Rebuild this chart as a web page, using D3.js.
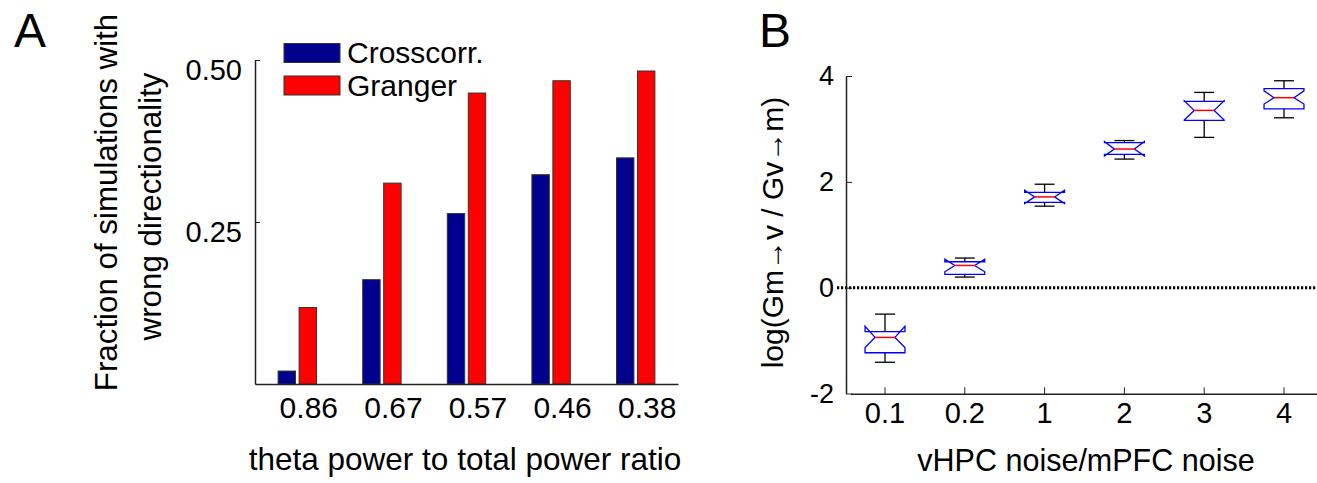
<!doctype html>
<html lang="en">
<head>
	<meta charset="UTF-8">
	<title>Wrong directionality / log Granger ratio</title>
	<style>
		body { margin: 0; background: #fff; }
		svg { display: block; font-family: "Liberation Sans", Arial, Helvetica, sans-serif; }
		.axis path, .axis line { stroke: #222; }
	</style>
</head>
<body>
	<script src="https://cdn.jsdelivr.net/npm/d3@7/dist/d3.min.js"></script>
	<script>
		// panel A data
		var powerRatio = ['0.86', '0.67', '0.57', '0.46', '0.38'];
		var seriesNames = ['Crosscorr.', 'Granger'];
		var crosscorr = [0.020, 0.161, 0.263, 0.323, 0.349];
		var granger = [0.118, 0.310, 0.449, 0.468, 0.483];
		var fracTicks = [0.25, 0.50];

		// panel B data (box plot stats per noise ratio)
		var noiseRatio = ['0.1', '0.2', '1', '2', '3', '4'];
		var whiskerLo = [-1.41, 0.20, 1.54, 2.43, 2.84, 3.21];
		var q1 = [-1.23, 0.25, 1.61, 2.52, 3.16, 3.38];
		var notchLo = [-1.13, 0.30, 1.59, 2.49, 3.17, 3.47];
		var median = [-0.94, 0.42, 1.715, 2.62, 3.35, 3.59];
		var notchHi = [-0.73, 0.54, 1.84, 2.76, 3.53, 3.72];
		var q3 = [-0.83, 0.49, 1.80, 2.74, 3.52, 3.76];
		var whiskerHi = [-0.50, 0.56, 1.955, 2.78, 3.69, 3.91];
		var logTicks = [-2, 0, 2, 4];

		var colors = ['#00008f', '#ff0000'];

		var w = 1317,
			h = 483;

		var svg = d3.select('body')
			.append('svg')
			.attr('width', w)
			.attr('height', h);

		// ---------- panel A ----------
		var xA = d3.scaleBand()
			.domain(powerRatio)
			.range([255, 678]);

		var xInner = d3.scaleBand()
			.domain(seriesNames)
			.range([-19.2, 19.2])
			.paddingInner(0.17);

		var yA = d3.scaleLinear()
			.domain([0, 0.5])
			.range([384, 60]);

		var gA = svg.append('g');

		var groups = gA.selectAll('g.group')
			.data(powerRatio)
			.enter()
			.append('g')
			.attr('class', 'group')
			.attr('transform', function(d) {
				return 'translate(' + (xA(d) + xA.bandwidth() / 2) + ',0)';
			});

		groups.selectAll('rect')
			.data(function(d, i) {
				return [
					{ s: seriesNames[0], v: crosscorr[i], c: colors[0] },
					{ s: seriesNames[1], v: granger[i], c: colors[1] }
				];
			})
			.enter()
			.append('rect')
			.attr('x', function(d) { return xInner(d.s); })
			.attr('width', xInner.bandwidth())
			.attr('y', function(d) { return yA(d.v); })
			.attr('height', function(d) { return yA(0) - yA(d.v); })
			.attr('fill', function(d) { return d.c; })
			.attr('stroke', '#333')
			.attr('stroke-width', 1);

		// y axis A
		var yAxisA = gA.append('g')
			.attr('class', 'axis')
			.attr('transform', 'translate(255,0)')
			.call(d3.axisRight(yA).tickValues(fracTicks).tickSize(5).tickFormat(d3.format('.2f')).tickSizeOuter(0));
		yAxisA.select('.domain').attr('stroke-width', 1.5);
		yAxisA.selectAll('.tick text')
			.attr('x', -13)
			.attr('dy', '19.5')
			.attr('text-anchor', 'end')
			.attr('fill', '#000')
			.style('font-size', '29px');

		// x axis A
		var xAxisA = gA.append('g')
			.attr('class', 'axis')
			.attr('transform', 'translate(0,384)')
			.call(d3.axisBottom(xA).tickSize(0).tickSizeOuter(0));
		xAxisA.select('.domain').attr('stroke-width', 1.5);
		xAxisA.selectAll('.tick text')
			.attr('x', 11.5)
			.attr('y', 34)
			.attr('dy', null)
			.attr('fill', '#000')
			.style('font-size', '30px');

		gA.append('text')
			.attr('x', 465)
			.attr('y', 470)
			.attr('text-anchor', 'middle')
			.style('font-size', '31.5px')
			.text('theta power to total power ratio');

		gA.append('text')
			.attr('transform', 'translate(117,202.5) rotate(-90)')
			.attr('text-anchor', 'middle')
			.style('font-size', '31.3px')
			.text('Fraction of simulations with');
		gA.append('text')
			.attr('transform', 'translate(160.5,206.5) rotate(-90)')
			.attr('text-anchor', 'middle')
			.style('font-size', '31.3px')
			.text('wrong directionality');

		// legend
		var legend = gA.selectAll('g.legend')
			.data(seriesNames)
			.enter()
			.append('g')
			.attr('class', 'legend')
			.attr('transform', function(d, i) {
				return 'translate(284,' + (43.5 + i * 32.5) + ')';
			});
		legend.append('rect')
			.attr('width', 56)
			.attr('height', 19)
			.attr('fill', function(d, i) { return colors[i]; })
			.attr('stroke', '#333')
			.attr('stroke-width', 1);
		legend.append('text')
			.attr('x', 63)
			.attr('y', 19.5)
			.style('font-size', '30px')
			.text(function(d) { return d; });

		svg.append('text')
			.attr('x', 14)
			.attr('y', 47)
			.style('font-size', '48px')
			.text('A');

		// ---------- panel B ----------
		var xB = d3.scaleBand()
			.domain(noiseRatio)
			.range([845.1, 1323.9]);

		var yB = d3.scaleLinear()
			.domain([-2, 4])
			.range([393.5, 76]);

		var gB = svg.append('g');

		// zero reference line
		gB.append('line')
			.attr('x1', 837)
			.attr('x2', w)
			.attr('y1', yB(0))
			.attr('y2', yB(0))
			.attr('stroke', '#000')
			.attr('stroke-width', 3)
			.attr('stroke-dasharray', '2.2,1.8');

		var boxes = noiseRatio.map(function(c, i) {
			return {
				c: c, lo: whiskerLo[i], q1: q1[i], nlo: notchLo[i], med: median[i],
				nhi: notchHi[i], q3: q3[i], hi: whiskerHi[i]
			};
		});

		var hw = xB.bandwidth() / 4;

		var box = gB.selectAll('g.box')
			.data(boxes)
			.enter()
			.append('g')
			.attr('class', 'box')
			.attr('transform', function(d) {
				return 'translate(' + (xB(d.c) + xB.bandwidth() / 2) + ',0)';
			});

		// whiskers
		box.append('line')
			.attr('x1', 0).attr('x2', 0)
			.attr('y1', function(d) { return yB(d.q3); })
			.attr('y2', function(d) { return yB(d.hi); })
			.attr('stroke', '#000').attr('stroke-width', 1.3);
		box.append('line')
			.attr('x1', 0).attr('x2', 0)
			.attr('y1', function(d) { return yB(d.q1); })
			.attr('y2', function(d) { return yB(d.lo); })
			.attr('stroke', '#000').attr('stroke-width', 1.3);
		box.append('line')
			.attr('x1', -hw / 2).attr('x2', hw / 2)
			.attr('y1', function(d) { return yB(d.hi); })
			.attr('y2', function(d) { return yB(d.hi); })
			.attr('stroke', '#000').attr('stroke-width', 1.3);
		box.append('line')
			.attr('x1', -hw / 2).attr('x2', hw / 2)
			.attr('y1', function(d) { return yB(d.lo); })
			.attr('y2', function(d) { return yB(d.lo); })
			.attr('stroke', '#000').attr('stroke-width', 1.3);

		// notched box
		box.append('path')
			.attr('d', function(d) {
				var p = d3.path();
				p.moveTo(-hw, yB(d.q1));
				p.lineTo(-hw, yB(d.nlo));
				p.lineTo(-hw / 2, yB(d.med));
				p.lineTo(-hw, yB(d.nhi));
				p.lineTo(-hw, yB(d.q3));
				p.lineTo(hw, yB(d.q3));
				p.lineTo(hw, yB(d.nhi));
				p.lineTo(hw / 2, yB(d.med));
				p.lineTo(hw, yB(d.nlo));
				p.lineTo(hw, yB(d.q1));
				p.closePath();
				return p.toString();
			})
			.attr('fill', 'none')
			.attr('stroke', '#0000ff')
			.attr('stroke-width', 1.3);

		box.append('line')
			.attr('x1', -hw / 2).attr('x2', hw / 2)
			.attr('y1', function(d) { return yB(d.med); })
			.attr('y2', function(d) { return yB(d.med); })
			.attr('stroke', '#ff0000').attr('stroke-width', 1.5);

		// axes B
		var yAxisB = gB.append('g')
			.attr('class', 'axis')
			.attr('transform', 'translate(846,0)')
			.call(d3.axisRight(yB).tickValues(logTicks).tickSize(6).tickSizeOuter(0)
				.tickFormat(function(d) { return String(d); }));
		yAxisB.select('.domain').attr('stroke-width', 1.5);
		yAxisB.selectAll('.tick text')
			.attr('x', -12)
			.attr('text-anchor', 'end')
			.attr('fill', '#000')
			.style('font-size', '27px');

		var xAxisB = gB.append('g')
			.attr('class', 'axis')
			.attr('transform', 'translate(0,394.3)')
			.call(d3.axisTop(xB).tickSize(7).tickSizeOuter(0));
		xAxisB.select('.domain')
			.attr('d', 'M851,0H' + w)
			.attr('stroke-width', 1.5);
		xAxisB.selectAll('.tick text')
			.attr('y', 29)
			.attr('dy', null)
			.attr('fill', '#000')
			.style('font-size', '29px');

		gB.append('text')
			.attr('x', 1086)
			.attr('y', 471)
			.attr('text-anchor', 'middle')
			.style('font-size', '30.5px')
			.text('vHPC noise/mPFC noise');

		gB.append('text')
			.attr('transform', 'translate(783,232.5) rotate(-90)')
			.attr('text-anchor', 'middle')
			.style('font-size', '30px')
			.text('log(Gm\u2192v / Gv\u2192m)');

		svg.append('text')
			.attr('x', 759)
			.attr('y', 47)
			.style('font-size', '48px')
			.text('B');
	</script>
</body>
</html>
